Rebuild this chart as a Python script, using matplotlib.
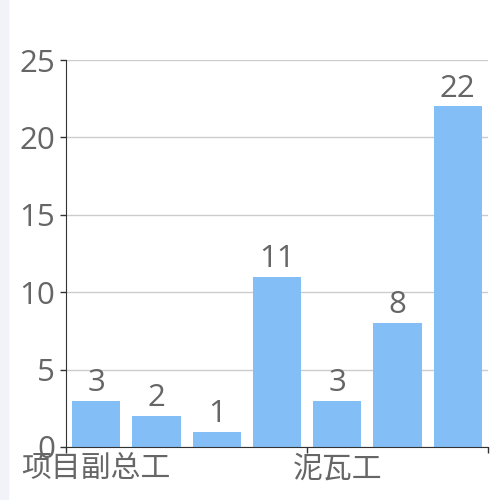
import numpy as np
import matplotlib.pyplot as plt
from matplotlib.patches import Rectangle

plt.rcParams['font.family'] = ['Open Sans', 'Noto Sans CJK SC', 'DejaVu Sans']

categories = ['项目副总工', '', '', '', '泥瓦工', '', '']
values = [3, 2, 1, 11, 3, 8, 22]
y_ticks = [0, 5, 10, 15, 20, 25]

bar_color = '#83bff6'
text_color = '#666666'

fig = plt.figure(figsize=(5, 5), dpi=100)
# light strip on the far left
fig.patches.append(Rectangle((0, 0), 8 / 500, 1, transform=fig.transFigure,
                             color='#f2f3f8', zorder=0))

ax = fig.add_axes([66 / 500, 53 / 500, 422 / 500, 387 / 500])
x = np.arange(len(values))
ax.bar(x, values, width=0.8, color=bar_color, zorder=2)

for xi, v in zip(x, values):
    ax.annotate(str(v), (xi, v), xytext=(0, 2), textcoords='offset points',
                ha='center', va='bottom', fontsize=22.5, color=text_color)

ax.set_xlim(-0.5, len(values) - 0.5)
ax.set_ylim(0, 25)
ax.set_yticks(y_ticks)
ax.set_yticklabels([str(t) for t in y_ticks])
ax.grid(axis='y', color='#cccccc', linewidth=1, zorder=0)

# labels only at every 4th category, ticks at category boundaries
ax.set_xticks([0, 4])
ax.set_xticklabels([categories[0], categories[4]])
ax.set_xticks([-0.5, 3.5, 6.5], minor=True)
ax.tick_params(axis='x', which='major', length=0, pad=6, labelsize=21.5, labelcolor=text_color)
ax.tick_params(axis='x', which='minor', length=4, color='#333333', width=1)
ax.tick_params(axis='y', length=4, color='#333333', width=1, pad=4, labelsize=22.5, labelcolor=text_color)

for side in ['top', 'right']:
    ax.spines[side].set_visible(False)
ax.spines['left'].set_color('#333333')
ax.spines['bottom'].set_color('#333333')

fig.savefig('out.png', dpi=100)
